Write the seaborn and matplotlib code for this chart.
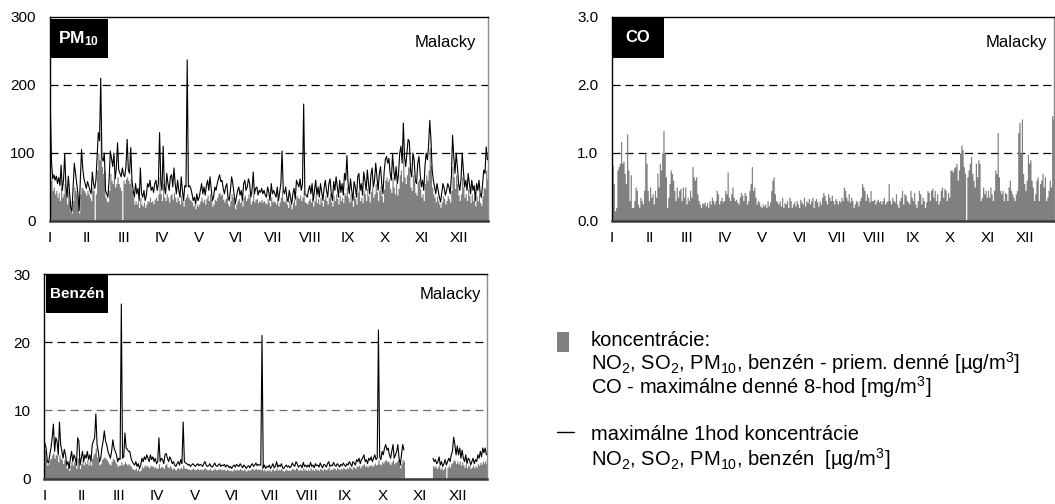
import numpy as np
import pandas as pd
import matplotlib
matplotlib.use("Agg")
import matplotlib.pyplot as plt
from matplotlib.patches import Rectangle
from matplotlib.lines import Line2D
import seaborn as sns

NA = np.nan

# month labels, one tick every 31 days
months = ["I", "II", "III", "IV", "V", "VI", "VII", "VIII", "IX", "X", "XI", "XII"]
month_ticks = [0, 31, 62, 93, 124, 155, 186, 217, 248, 279, 310, 341]

# PM10 - daily mean [ug/m3]
pm10_avg = [
    65, 60, 45, 50, 40, 45, 35, 42, 30, 50, 35, 40, 55, 40, 25, 45, 30, 15, 12, 30, 50, 45, 40, 30, 12, 40, 50, 48, 45, 42, 38,
    45, 40, 35, 30, 50, 45, NA, 40, 75, 100, 90, 130, 80, 70, 75, 35, 30, 28, 45, 70, 60, 55, 65, 50, 55, 65, 55, 50, 45, NA, 60,
    55, 62, 65, 60, 55, 62, 45, 35, 25, 30, 25, 30, 20, 35, 25, 22, 28, 20, 25, 30, 28, 35, 28, 30, 25, 32, 35, 30, 40, 65, 40,
    30, 55, 35, 30, 40, 35, 28, 38, 40, 32, 42, 35, 28, 35, 30, 25, 38, 30, 22, 32, 35, 40, 35, 32, 30, 28, 22, 25, 18, 25, 22,
    25, 30, 35, 28, 32, 25, 33, 38, 30, 40, 32, 22, 25, 32, 30, 35, 40, 42, 38, 40, 32, 28, 33, 35, 25, 22, 30, 40, 35, 28, 18,
    25, 30, 33, 27, 30, 22, 35, 38, 30, 33, 40, 35, 25, 30, 42, 28, 32, 33, 27, 30, 28, 32, 28, 30, 27, 25, 33, 28, 22, 35, 28,
    30, 28, 25, 33, 22, 28, 35, 45, 30, 28, 33, 25, 20, 30, 25, 18, 27, 32, 23, 38, 35, 33, 38, 30, 35, 45, 28, 27, 25, 30, 33,
    28, 35, 22, 30, 38, 27, 33, 25, 35, 28, 22, 32, 38, 30, 25, 35, 40, 28, 22, 37, 30, 40, 33, 25, 38, 30, 35, 27, 42, 38, 50,
    35, 28, 40, 30, 22, 37, 33, 25, 42, 45, 30, 35, 27, 45, 40, 30, 48, 37, 28, 43, 50, 35, 40, 55, 43, 30, 45, 52, 37, 28, 47,
    60, 65, 58, 62, 48, 42, 65, 50, 40, 55, 38, 48, 68, 75, 58, 100, 65, 55, 68, 80, 78, 50, 45, 68, 60, 42, 38, 58, 62, 48, 35,
    40, 30, 55, 68, 60, 75, 108, 82, 50, 40, 35, 28, 37, 30, 25, 20, 28, 37, 33, 25, 30, 37, 33, 28, 45, 80, 65, 48, 68, 55, 38,
    30, 40, 65, 50, 35, 40, 30, 47, 37, 27, 40, 30, 35, 22, 37, 30, 40, 27, 23, 37, 50, 48, 75, 62,
]

# PM10 - daily maximum of 1-hour values [ug/m3]
pm10_max = [
    170, 88, 62, 68, 60, 66, 55, 64, 52, 82, 45, 60, 99, 52, 35, 66, 42, 20, 14, 48, 85, 70, 55, 40, 15, 60, 105, 78, 62, 55, 48,
    58, 52, 45, 40, 72, 55, 48, 60, 95, 130, 118, 210, 92, 88, 100, 45, 40, 35, 62, 103, 92, 80, 100, 62, 78, 115, 75, 70, 65, 78, 68,
    65, 80, 120, 75, 70, 108, 60, 45, 35, 55, 40, 48, 30, 78, 40, 35, 45, 30, 38, 55, 50, 60, 45, 50, 42, 55, 60, 45, 55, 130, 60,
    45, 110, 50, 40, 70, 55, 45, 65, 68, 50, 78, 55, 40, 60, 45, 35, 65, 45, 30, 52, 50, 237, 50, 52, 48, 40, 30, 35, 25, 40, 30,
    35, 45, 55, 40, 50, 38, 52, 60, 45, 65, 48, 30, 35, 50, 45, 55, 62, 68, 58, 60, 48, 40, 50, 55, 35, 30, 45, 65, 55, 40, 25,
    35, 45, 50, 38, 45, 30, 55, 60, 45, 50, 62, 55, 35, 45, 72, 40, 48, 50, 38, 45, 42, 48, 40, 45, 38, 35, 50, 42, 30, 55, 40,
    45, 40, 35, 50, 30, 42, 55, 103, 45, 40, 50, 35, 28, 45, 35, 25, 40, 48, 32, 60, 55, 50, 62, 45, 55, 172, 40, 38, 35, 45, 52,
    40, 55, 30, 45, 60, 38, 50, 35, 55, 42, 30, 48, 60, 45, 35, 55, 62, 40, 30, 58, 45, 65, 50, 35, 60, 42, 55, 38, 70, 60, 96,
    55, 40, 62, 45, 30, 58, 50, 35, 65, 70, 45, 55, 38, 72, 60, 45, 75, 55, 40, 68, 78, 50, 60, 85, 65, 45, 70, 80, 55, 40, 72,
    90, 95, 85, 92, 70, 60, 98, 75, 60, 80, 55, 70, 100, 110, 85, 144, 95, 80, 100, 120, 117, 75, 65, 100, 90, 60, 55, 85, 95, 70, 50,
    60, 45, 80, 100, 90, 110, 148, 120, 75, 60, 50, 40, 55, 45, 35, 28, 42, 55, 48, 38, 45, 55, 50, 40, 65, 126, 95, 70, 100, 80, 55,
    45, 60, 100, 75, 50, 60, 45, 70, 55, 40, 60, 45, 52, 30, 55, 45, 60, 40, 35, 55, 75, 70, 109, 90,
]

# CO - daily maximum 8-hour mean [mg/m3]
co_max8h = [
    .82, .55, .15, .2, .75, .8, .85, 1.17, .85, .88, .7, .55, 1.28, .75, .3, .68, .2, .2, .3, .5, .45, .25, .2, .35, .3, .25, .45, 1.0, .85, .45, .3,
    .5, .35, .4, .25, .45, .35, .7, .5, .85, .75, 1.0, 1.33, 1.0, .65, .2, .35, .55, .75, .7, .6, .45, .3, .5, .35, .45, .48, .3, .5, .35, .5, .25,
    .35, .3, .45, .35, .8, .65, .6, .65, .4, .3, .25, .2, .27, .25, .28, .22, .27, .2, .3, .25, .35, .3, .25, .3, .45, .4, .25, .3, .35, .28, .3,
    .45, .4, .72, .35, .3, .4, .5, .35, .3, .32, .28, .25, .35, .42, .38, .3, .42, .38, .25, .3, .45, .55, .8, .45, .5, .35, .25, .3, .28, .22, .2,
    .25, .22, .25, .2, .3, .22, .28, .45, .6, .65, .4, .3, .28, .25, .3, .22, .35, .2, .27, .25, .3, .2, .35, .3, .2, .25, .28, .22, .3, .25, .2,
    .32, .28, .25, .35, .22, .3, .27, .33, .25, .3, .35, .2, .3, .33, .28, .22, .3, .25, .35, .42, .38, .3, .25, .4, .35, .3, .38, .3, .25, .33, .3,
    .25, .3, .28, .35, .3, .5, .45, .35, .3, .4, .28, .35, .3, .2, .25, .3, .28, .22, .3, .35, .55, .5, .45, .3, .4, .35, .28, .45, .3, .3, .32,
    .25, .3, .32, .28, .3, .25, .3, .35, .25, .28, .3, .55, .3, .25, .35, .3, .28, .4, .25, .2, .3, .35, .45, .25, .4, .38, .3, .28, .25, .45, .35,
    .3, .42, .25, .2, .3, .45, .4, .25, .35, .3, .2, .28, .45, .42, .3, .45, .48, .35, .45, .3, .4, .25, .3, .45, .5, .35, .48, .45, .3, .42, .35,
    .75, .75, .72, .78, .8, .85, .6, .75, 1.0, 1.12, 1.05, .8, .7, NA, .65, .75, .85, .95, .7, .6, .5, .85, .65, .9, .85, .3, .35, .5, .4, .45, .35,
    .45, .35, .5, .4, .3, .45, .75, .7, 1.3, .65, .45, .4, .45, .3, .42, .4, .3, .5, .6, .45, .4, .35, .3, .4, .45, 1.3, 1.45, 1.0, 1.5, .7, .55,
    .45, .6, .98, .85, .9, .6, .5, .3, .4, .6, .65, .3, .55, .6, .7, .5, .65, .3, .35, .45, .6, .5, 1.55, 1.5,
]

# benzene - daily mean [ug/m3]
benz_avg = [
    4.2, 3.0, 2.0, 2.2, 2.8, 3.0, 3.5, 3.8, 3.0, 3.5, 3.5, 2.5, 3.5, 3.0, 2.8, 2.2, 2.8, 2.5, 1.5, 1.8, 1.2, 2.0, 2.5, 2.0, 2.5, 2.2, 1.5, 3.0, 3.2, 1.5, 2.2,
    2.8, 2.0, 2.5, 2.2, 2.8, 2.0, 2.5, 2.0, 3.0, 3.5, 3.8, 4.5, 3.2, 2.8, 2.0, 2.2, 2.8, 3.0, 3.2, 3.0, 2.8, 2.5, 2.2, 2.0, 2.5, 3.0, 2.8, 2.5, 2.2, 1.8, 2.0,
    2.0, 2.5, 2.0, 2.2, 2.5, 2.2, 2.0, 2.2, 2.0, 1.8, 1.5, 1.4, 1.3, 1.6, 1.2, 1.5, 1.1, 1.3, 1.8, 1.6, 2.0, 1.8, 2.0, 1.8, 1.6, 2.0, 1.8, 1.9, 1.6, 1.8, 1.5,
    1.6, 2.2, 1.6, 1.8, 1.7, 1.5, 2.0, 2.2, 1.8, 1.6, 1.9, 1.7, 1.4, 1.6, 1.4, 1.3, 1.5, 1.6, 1.4, 1.7, 1.5, 2.0, 1.6, 1.5, 1.5, 1.4, 1.4, 1.3, 1.4, 1.5, 1.4,
    1.3, 1.4, 1.5, 1.3, 1.4, 1.4, 1.3, 1.5, 1.6, 1.4, 1.3, 1.3, 1.5, 1.3, 1.2, 1.4, 1.5, 1.3, 1.3, 1.4, 1.5, 1.3, 1.4, 1.3, 1.4, 1.2, 1.4, 1.3, 1.2, 1.3, 1.1,
    1.3, 1.4, 1.2, 1.4, 1.3, 1.3, 1.5, 1.3, 1.2, 1.4, 1.3, 1.1, 1.3, 1.3, 1.2, 1.4, 1.5, 1.3, 1.4, 1.5, 1.3, 1.4, 1.4, 1.3, 2.0, 1.2, 1.4, 1.1, 1.3, 1.2, 1.4,
    1.1, 1.3, 1.5, 1.2, 1.3, 1.6, 1.2, 1.4, 1.3, 1.5, 1.2, 1.1, 1.3, 1.4, 1.2, 1.3, 1.2, 1.3, 1.5, 1.4, 1.3, 1.6, 1.5, 1.2, 1.3, 1.4, 1.2, 1.6, 1.3, 1.4, 1.2,
    1.4, 1.2, 1.6, 1.3, 1.4, 1.2, 1.5, 1.3, 1.4, 1.2, 1.5, 1.4, 1.2, 1.5, 1.4, 1.3, 1.5, 1.7, 1.3, 1.4, 1.4, 1.6, 1.5, 1.3, 1.6, 1.5, 1.3, 1.5, 1.4, 1.6, 1.5,
    1.4, 1.6, 1.5, 1.8, 1.6, 1.4, 1.8, 1.7, 1.5, 1.9, 1.8, 2.0, 1.6, 1.9, 2.0, 2.2, 1.8, 2.0, 1.7, 2.0, 1.9, 2.1, 1.8, 2.0, 2.3, 2.0, 2.1, 2.8, 2.2, 2.0, 2.5,
    2.3, 2.6, 2.8, 2.5, 2.6, 2.3, 2.1, 2.5, 2.8, 2.2, 2.4, 2.5, 2.8, 2.2, 1.6, 2.3, 2.8, 2.6, NA, NA, NA, NA, NA, NA, NA, NA, NA, NA, NA, NA, NA,
    NA, NA, NA, NA, NA, NA, NA, NA, NA, NA, 1.9, 1.7, 1.9, 1.5, 1.7, 2.0, 1.4, 1.7, 1.3, 1.5, 1.8, NA, 1.6, 2.0, 1.7, 2.2, 2.4, 2.8, 2.6, 2.2, 2.6,
    2.2, 2.6, 2.0, 2.5, 2.0, 1.7, 2.2, 1.6, 2.0, 1.9, 1.5, 1.7, 2.0, 1.6, 1.9, 1.7, 2.2, 2.0, 2.4, 2.1, 2.6, 2.3, 2.6, 2.2,
]

# benzene - daily maximum of 1-hour values [ug/m3]
benz_max = [
    5.2, 4.5, 2.5, 2.3, 3.5, 4.5, 6.0, 8.0, 4.0, 6.0, 5.5, 3.5, 8.3, 5.0, 4.0, 3.0, 4.3, 3.5, 2.0, 2.5, 1.5, 3.0, 4.0, 2.5, 3.5, 3.0, 2.0, 6.0, 5.5, 2.0, 3.0,
    4.0, 2.5, 3.5, 3.0, 4.0, 2.8, 3.5, 2.5, 5.0, 5.5, 6.0, 9.5, 5.0, 4.0, 2.5, 3.0, 4.5, 5.5, 7.0, 5.5, 5.0, 4.0, 3.5, 3.0, 4.0, 5.7, 4.5, 4.0, 3.5, 2.5, 3.0,
    2.8, 25.6, 3.0, 3.2, 6.7, 4.5, 4.3, 4.0, 4.0, 3.0, 2.5, 2.2, 2.0, 2.5, 1.8, 2.2, 1.5, 2.0, 3.0, 2.5, 3.2, 2.8, 3.5, 3.0, 2.5, 3.5, 2.8, 3.2, 2.5, 3.0, 2.2,
    2.5, 6.0, 2.5, 3.0, 2.8, 2.2, 3.5, 3.7, 3.0, 2.5, 3.2, 2.8, 2.2, 2.5, 2.0, 1.8, 2.2, 2.5, 2.0, 2.8, 2.2, 8.3, 2.5, 2.3, 2.2, 2.0, 2.1, 1.8, 2.0, 2.2, 2.0,
    1.8, 2.0, 2.2, 1.9, 2.1, 2.0, 1.8, 2.2, 2.5, 2.0, 1.8, 1.9, 2.2, 1.8, 1.7, 2.0, 2.3, 1.9, 1.8, 2.0, 2.2, 1.8, 2.0, 1.9, 2.1, 1.7, 2.0, 1.9, 1.6, 1.8, 1.5,
    1.8, 2.0, 1.7, 2.1, 1.9, 1.8, 2.2, 1.9, 1.6, 2.0, 1.8, 1.5, 1.8, 1.9, 1.6, 2.0, 2.2, 1.8, 2.0, 2.3, 1.9, 2.1, 2.0, 2.0, 21.0, 1.6, 2.0, 1.5, 1.8, 1.7, 2.0,
    1.5, 1.8, 2.2, 1.6, 1.8, 2.5, 1.7, 2.0, 1.8, 2.2, 1.6, 1.5, 1.8, 2.0, 1.7, 1.9, 1.6, 1.8, 2.3, 2.0, 1.8, 2.5, 2.2, 1.7, 1.9, 2.0, 1.6, 2.4, 1.8, 2.0, 1.7,
    2.0, 1.7, 2.4, 1.8, 2.0, 1.6, 2.2, 1.9, 2.0, 1.7, 2.3, 1.9, 1.6, 2.1, 2.0, 1.7, 2.2, 2.5, 1.8, 2.0, 1.9, 2.4, 2.0, 1.8, 2.2, 2.0, 1.7, 2.1, 1.9, 2.3, 2.0,
    1.8, 2.2, 2.0, 2.5, 2.2, 1.8, 2.5, 2.3, 2.0, 2.8, 2.5, 3.0, 2.2, 2.8, 3.0, 3.5, 2.5, 2.8, 2.2, 3.0, 2.7, 3.2, 2.5, 3.0, 3.5, 2.8, 3.0, 21.8, 3.2, 2.8, 4.0,
    3.5, 4.5, 5.0, 4.2, 4.5, 3.5, 3.0, 4.0, 5.0, 3.0, 3.5, 4.0, 5.0, 3.0, 2.0, 3.5, 5.0, 4.2, NA, NA, NA, NA, NA, NA, NA, NA, NA, NA, NA, NA, NA,
    NA, NA, NA, NA, NA, NA, NA, NA, NA, NA, 3.0, 2.5, 2.8, 2.2, 2.5, 3.2, 2.0, 2.5, 1.8, 2.2, 2.8, 2.0, 2.5, 3.0, 2.5, 3.5, 4.0, 6.1, 5.0, 3.5, 4.8,
    3.5, 4.5, 3.0, 4.2, 3.0, 2.5, 3.5, 2.2, 3.0, 2.8, 2.0, 2.5, 3.0, 2.2, 2.8, 2.5, 3.5, 3.0, 4.0, 3.2, 4.5, 3.8, 4.5, 3.5,
]

station = "Malacky"

sns.set_style("white")
plt.rcParams.update({
    "font.family": ["Liberation Sans", "DejaVu Sans"],
    "mathtext.fontset": "custom",
    "mathtext.rm": "Liberation Sans",
    "mathtext.it": "Liberation Sans:italic",
    "mathtext.bf": "Liberation Sans:bold",
    "lines.scale_dashes": False,
    "font.size": 11,
})

W, H = 1055, 504
fig = plt.figure(figsize=(W / 100, H / 100), dpi=100)
fig.patch.set_facecolor("white")


def fx(px):
    return px / W


def fy(py):
    return 1 - py / H


def make_axes(left, top, right, bottom):
    return fig.add_axes([fx(left), fy(bottom), (right - left) / W, (bottom - top) / H])


GREY = "#808080"


def draw_panel(ax, avg, mx, ymax, yticks, ylabels, grid_styles):
    days = np.arange(len(avg))
    edges = np.arange(len(avg) + 1)
    heights = np.nan_to_num(np.asarray(avg, dtype=float))
    ax.fill_between(edges, np.append(heights, heights[-1]), step="post",
                    color=GREY, linewidth=0, zorder=2)
    if mx is not None:
        df = pd.DataFrame({"day": days + 0.5, "value": np.asarray(mx, dtype=float)})
        df["segment"] = df["value"].isna().cumsum()
        df = df.dropna()
        sns.lineplot(data=df, x="day", y="value", units="segment", estimator=None,
                     color="black", linewidth=0.8, ax=ax, zorder=3)
    for yv, col in grid_styles:
        ax.axhline(yv, color=col, linewidth=0.9, dashes=(5.8, 3.6), zorder=1)
    ax.set_xlim(0, 365)
    ax.set_ylim(0, ymax)
    ax.set_xticks(month_ticks)
    ax.set_xticklabels(months)
    ax.set_yticks(yticks)
    ax.set_yticklabels(ylabels)
    ax.set_xlabel("")
    ax.set_ylabel("")
    ax.tick_params(axis="x", direction="inout", length=9, width=1.0, colors="black",
                   pad=3, labelsize=11)
    ax.tick_params(axis="y", direction="out", length=7, width=1.0, colors="black",
                   pad=3, labelsize=11)
    for side in ("left", "top"):
        ax.spines[side].set_color("black")
        ax.spines[side].set_linewidth(1.0)
    ax.spines["right"].set_color("#8a8a8a")
    ax.spines["right"].set_linewidth(1.0)
    ax.spines["bottom"].set_color("#3a3a3a")
    ax.spines["bottom"].set_linewidth(1.8)
    ax.set_facecolor("white")


ax_pm = make_axes(49.7, 17, 488, 221)
draw_panel(ax_pm, pm10_avg, pm10_max, 300, [0, 100, 200, 300], ["0", "100", "200", "300"],
           [(100, "black"), (200, "black")])

ax_co = make_axes(612, 17, 1054, 221)
draw_panel(ax_co, co_max8h, None, 3.0, [0, 1, 2, 3], ["0.0", "1.0", "2.0", "3.0"],
           [(1.0, "black"), (2.0, "black")])

ax_bz = make_axes(44.3, 274, 487, 478.7)
draw_panel(ax_bz, benz_avg, benz_max, 30, [0, 10, 20, 30], ["0", "10", "20", "30"],
           [(10, "#6e6e6e"), (20, "black")])


def label_box(x0, y0, x1, y1, text, size):
    fig.patches.append(Rectangle((fx(x0), fy(y1)), (x1 - x0) / W, (y1 - y0) / H,
                                 transform=fig.transFigure, facecolor="black",
                                 edgecolor="none", zorder=5))
    fig.text(fx((x0 + x1) / 2), fy((y0 + y1) / 2), text, color="white", fontsize=size,
             fontweight="bold", ha="center", va="center", zorder=6)


label_box(49.7, 19, 108, 58, r"PM$_{\mathbf{10}}$", 12.5)
label_box(612, 17, 664, 58, "CO", 12)
label_box(46, 275, 108, 313, "Benzén", 11)

for xr, yc in [(476, 42), (1047, 42), (481, 294)]:
    fig.text(fx(xr), fy(yc), station, ha="right", va="center", fontsize=12, color="black")

# legend
fig.patches.append(Rectangle((fx(557), fy(352)), 12 / W, 20 / H, transform=fig.transFigure,
                             facecolor=GREY, edgecolor="none"))
fig.lines.append(Line2D([fx(557), fx(574)], [fy(432), fy(432)], transform=fig.transFigure,
                        color="black", linewidth=1.0))
legend_lines = [
    (340, "koncentrácie:"),
    (363, r"NO$_2$, SO$_2$, PM$_{10}$, benzén - priem. denné [µg/m$^3$]"),
    (387, r"CO - maximálne denné 8-hod [mg/m$^3$]"),
    (435, "maximálne 1hod koncentrácie"),
    (459, r"NO$_2$, SO$_2$, PM$_{10}$, benzén  [µg/m$^3$]"),
]
for yc, txt in legend_lines:
    fig.text(fx(591), fy(yc), txt, ha="left", va="center", fontsize=14.5, color="black")

fig.savefig("out.png", dpi=100, facecolor="white")
